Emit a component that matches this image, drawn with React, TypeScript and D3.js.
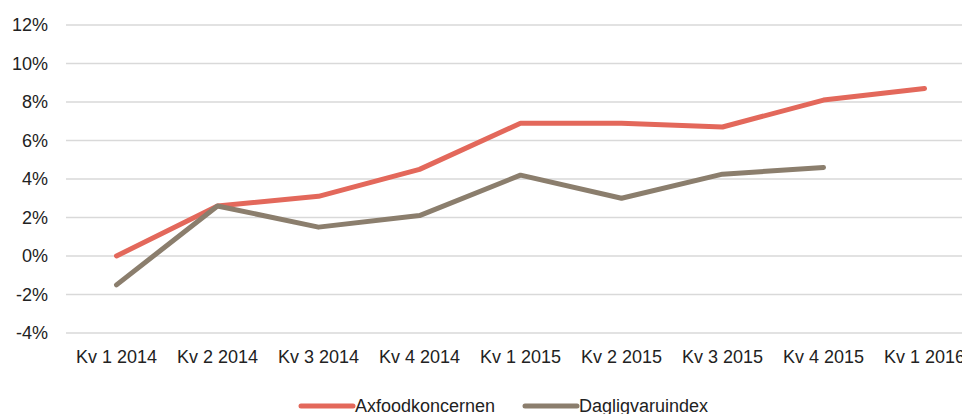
import React from 'react';
import * as d3 from 'd3';

const categories = ['Kv 1 2014', 'Kv 2 2014', 'Kv 3 2014', 'Kv 4 2014', 'Kv 1 2015', 'Kv 2 2015', 'Kv 3 2015', 'Kv 4 2015', 'Kv 1 2016'];
const axfood = [0, 2.6, 3.1, 4.5, 6.9, 6.9, 6.7, 8.1, 8.7];
const dagligvaru = [-1.5, 2.6, 1.5, 2.1, 4.2, 3.0, 4.25, 4.6];
const yTicks = [-4, -2, 0, 2, 4, 6, 8, 10, 12];

const W = 962;
const H = 414;
const font = '"Liberation Sans Narrow", "Liberation Sans", Arial, sans-serif';

export default function App() {
  const x = d3.scaleBand().domain(categories).range([66, 975]);
  const y = d3.scaleLinear().domain([-4, 12]).range([333, 25]);
  const cx = (i: number) => (x(categories[i]) as number) + x.bandwidth() / 2;
  const line = d3.line<number>().x((_, i) => cx(i)).y(d => y(d));

  const legend = [
    { name: 'Axfoodkoncernen', color: '#E3685B', x: 299 },
    { name: 'Dagligvaruindex', color: '#8B7E6D', x: 523 },
  ];

  return (
    <svg width={W} height={H} style={{ position: 'absolute', left: 0, top: 0 }}>
      <rect width={W} height={H} fill="#fff" />
      {yTicks.map(t => (
        <g key={t}>
          <line x1={66} x2={W} y1={y(t)} y2={y(t)} stroke="#d9d9d9" strokeWidth={1.5} />
          <text x={48} y={y(t)} dy="0.35em" textAnchor="end" fontFamily={font} fontSize={18} fill="#222">
            {t}%
          </text>
        </g>
      ))}
      {categories.map((c, i) => (
        <text key={c} x={cx(i)} y={357} dy="0.35em" textAnchor="middle" fontFamily={font} fontSize={18} fill="#222">
          {c}
        </text>
      ))}
      <path d={line(axfood) ?? ''} fill="none" stroke="#E3685B" strokeWidth={5} strokeLinecap="round" strokeLinejoin="round" />
      <path d={line(dagligvaru) ?? ''} fill="none" stroke="#8B7E6D" strokeWidth={5} strokeLinecap="round" strokeLinejoin="round" />
      {legend.map(l => (
        <g key={l.name}>
          <line x1={l.x + 2} x2={l.x + 54} y1={406} y2={406} stroke={l.color} strokeWidth={5} strokeLinecap="round" />
          <text x={l.x + 56} y={406} dy="0.35em" fontFamily={font} fontSize={18} fill="#222">
            {l.name}
          </text>
        </g>
      ))}
    </svg>
  );
}
